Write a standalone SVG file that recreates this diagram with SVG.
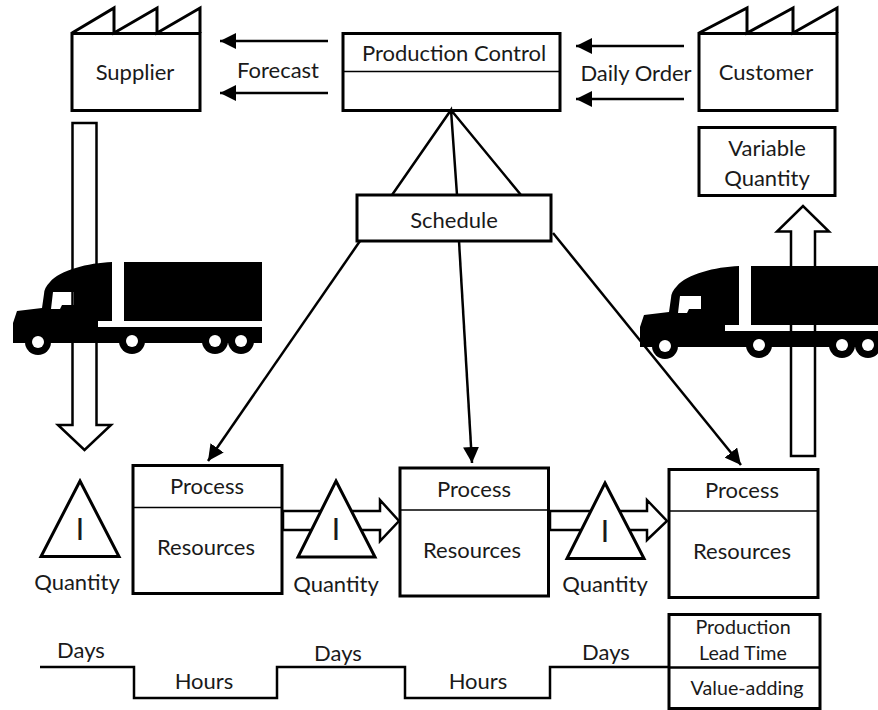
<svg xmlns="http://www.w3.org/2000/svg" width="878" height="710" viewBox="0 0 878 710">
<style>
text{font-family:"Lato","Liberation Sans",sans-serif;font-size:22px;fill:#1a1a1a;text-anchor:middle}
.b{fill:#fff;stroke:#000;stroke-width:3}
.o{fill:none;stroke:#000;stroke-width:3}
.s{fill:none;stroke:#000;stroke-width:2.500}
.d{fill:none;stroke:#000;stroke-width:1.500}
.c{fill:none;stroke:#000;stroke-width:2.500}
.a{fill:none;stroke:#000;stroke-width:2.500;marker-end:url(#h)}
text.i{font-family:"Liberation Sans",sans-serif;font-size:32px}
text.m{font-size:19.700px}
</style>
<defs>
<marker id="h" markerUnits="userSpaceOnUse" markerWidth="18" markerHeight="16" refX="16" refY="8" orient="auto"><path d="M0,0L16,8L0,16z" fill="#000"/></marker>
<g id="truck">
<path fill="#000" fill-rule="evenodd" d="M112,262C88,263 60,270 50,282C46,286 44,290 44,294L42,308L17,311L13,323L13,343L98,343L262,343L262,327L98,327L98,321L112,321zM53,292L74,292L74,305L62,305L60,309L51,309z"/>
<rect x="124" y="262" width="138" height="59" fill="#000"/>
<circle cx="38" cy="342" r="13" fill="#000"/><circle cx="132" cy="341" r="13" fill="#000"/><circle cx="215" cy="341" r="13" fill="#000"/><circle cx="241" cy="341" r="13" fill="#000"/>
<circle cx="38" cy="342" r="6" fill="#fff"/><circle cx="132" cy="341" r="6" fill="#fff"/><circle cx="215" cy="341" r="6" fill="#fff"/><circle cx="241" cy="341" r="6" fill="#fff"/>
</g>
</defs>
<rect width="878" height="710" fill="#fff"/>
<g id="connectors">
<path class="a" d="M328,41H220"/><path class="a" d="M328,93H220"/>
<path class="a" d="M684,46H576"/><path class="a" d="M684,99H576"/>
<path class="c" d="M392,195L451,110L457,195M451,110L521,195"/>
<path class="a" d="M360,241L208,461"/>
<path class="a" d="M459,241L472,463"/>
<path class="a" d="M553,233L741,465"/>
<path class="c" d="M40,667H134V698H277V667H405V698H550V667H669"/>
<path class="s" d="M72.500,123H96.500V425H111L84.500,450L58,425H72.500z"/>
<path class="s" d="M791,456H815V231.500H829L803,206L777,231.500H791z"/>
<path class="s" d="M283,511H380V500L399,521L380,541V530H283z"/>
<path class="s" d="M550,511H647V500L667,521L647,540V530H550z"/>
</g>
<g id="truck-left"><use href="#truck"/></g>
<g id="truck-right"><use href="#truck" transform="translate(627,4)"/></g>
<g id="supplier"><path class="o" d="M72,33L114,8V33L157,8V33L200,8V33"/><rect class="o" x="72" y="33.500" width="128" height="77"/><text x="135" y="80">Supplier</text></g>
<g id="forecast"><text x="278" y="78">Forecast</text></g>
<g id="production-control"><rect class="o" x="343" y="33.500" width="217" height="77"/><path class="d" d="M343,71.500H560"/><text x="454" y="61">Production Control</text></g>
<g id="daily-order"><text x="636" y="81">Daily Order</text></g>
<g id="customer"><path class="o" d="M699,33L747,8V33L793,8V33L837,8V33"/><rect class="o" x="699" y="33.500" width="138" height="77"/><text x="766" y="80">Customer</text></g>
<g id="variable-quantity"><rect class="o" x="699" y="127.500" width="136" height="68"/><text x="767" y="156">Variable</text><text x="767" y="186">Quantity</text></g>
<g id="schedule"><rect class="b" x="357" y="195" width="194" height="46"/><text x="454" y="228">Schedule</text></g>
<g id="inv1"><path class="b" d="M80,481L119,556.500H41z"/><text class="i" x="80" y="540">I</text><text x="77" y="590">Quantity</text></g>
<g id="process1"><rect class="b" x="133" y="465.500" width="149" height="128"/><path class="d" d="M133,507.500H282"/><text x="207" y="494">Process</text><text x="206" y="555">Resources</text></g>
<g id="inv2"><path class="b" d="M336,481L375,557H298z"/><text class="i" x="336" y="540">I</text><text x="336" y="592">Quantity</text></g>
<g id="process2"><rect class="b" x="400" y="468" width="148.500" height="128"/><path class="d" d="M400,510H548.500"/><text x="474" y="497">Process</text><text x="472" y="558">Resources</text></g>
<g id="inv3"><path class="b" d="M605,483L644,558.500H567z"/><text class="i" x="605" y="542">I</text><text x="605" y="592">Quantity</text></g>
<g id="process3"><rect class="b" x="669" y="469.500" width="149" height="128"/><path class="d" d="M669,511H818"/><text x="742" y="498">Process</text><text x="742" y="559">Resources</text></g>
<g id="lead-time"><rect class="b" x="669" y="614.500" width="151" height="94"/><path class="c" d="M669,667.500H820"/><text class="m" x="743" y="634">Production</text><text class="m" x="743" y="660">Lead Time</text><text class="m" x="747" y="695">Value-adding</text></g>
<g id="timeline-labels"><text x="81" y="658">Days</text><text x="204" y="689">Hours</text><text x="338" y="661">Days</text><text x="478" y="689">Hours</text><text x="606" y="660">Days</text></g>
</svg>
